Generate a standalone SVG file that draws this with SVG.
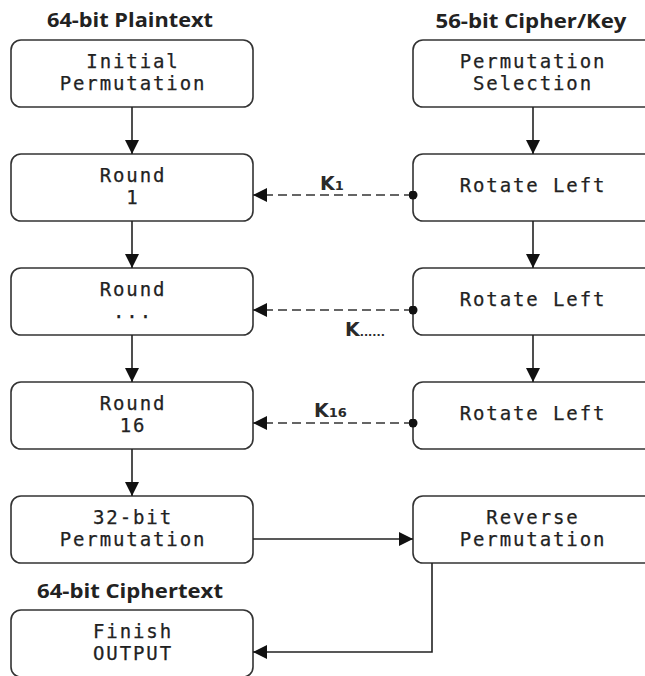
<svg xmlns="http://www.w3.org/2000/svg" width="645" height="676" viewBox="0 0 645 676">
  <style>
    .box { fill: #ffffff; stroke: #333333; stroke-width: 1.6; }
    .lbl { font-family: "DejaVu Sans Mono", "Liberation Mono", monospace; font-size: 19px; letter-spacing: 1.9px; fill: #222222; stroke: #222222; stroke-width: 0.25; text-anchor: middle; }
    .hdr { font-family: "Open Sans", "Liberation Sans", sans-serif; font-weight: bold; font-size: 20px; fill: #222222; text-anchor: middle; }
    .key { font-family: "DejaVu Sans", "Liberation Sans", sans-serif; font-weight: bold; font-size: 19px; fill: #2a2a2a; }
    .flow { fill: none; stroke: #222222; stroke-width: 1.6; }
    .dash { fill: none; stroke: #333333; stroke-width: 1.6; stroke-dasharray: 9 5; }
  </style>
  <defs>
    <marker id="arrow" viewBox="0 0 14 14" refX="14" refY="7" markerWidth="14" markerHeight="14" markerUnits="userSpaceOnUse" orient="auto">
      <path d="M0,0 L14,7 L0,14 Z" fill="#111111"/>
    </marker>
    <marker id="dot" viewBox="0 0 10 10" refX="5" refY="5" markerWidth="9" markerHeight="9" markerUnits="userSpaceOnUse">
      <circle cx="5" cy="5" r="5" fill="#111111"/>
    </marker>
  </defs>

  <!-- column headers -->
  <text class="hdr" x="130" y="27" textLength="166" lengthAdjust="spacingAndGlyphs">64-bit Plaintext</text>
  <text class="hdr" x="531" y="28" textLength="191" lengthAdjust="spacingAndGlyphs">56-bit Cipher/Key</text>
  <text class="hdr" x="130" y="598" textLength="186" lengthAdjust="spacingAndGlyphs">64-bit Ciphertext</text>

  <!-- data path (left column) -->
  <g id="initial-permutation">
    <rect class="box" x="11" y="40" width="242" height="67" rx="10"/>
    <text class="lbl" x="133" y="68">Initial</text>
    <text class="lbl" x="133" y="90">Permutation</text>
  </g>
  <g id="round-1">
    <rect class="box" x="11" y="154" width="242" height="67" rx="10"/>
    <text class="lbl" x="133" y="182">Round</text>
    <text class="lbl" x="133" y="204">1</text>
  </g>
  <g id="round-n">
    <rect class="box" x="11" y="268" width="242" height="67" rx="10"/>
    <text class="lbl" x="133" y="296">Round</text>
    <text class="lbl" x="133" y="318">...</text>
  </g>
  <g id="round-16">
    <rect class="box" x="11" y="382" width="242" height="67" rx="10"/>
    <text class="lbl" x="133" y="410">Round</text>
    <text class="lbl" x="133" y="432">16</text>
  </g>
  <g id="permutation-32">
    <rect class="box" x="11" y="496" width="242" height="67" rx="10"/>
    <text class="lbl" x="133" y="524">32-bit</text>
    <text class="lbl" x="133" y="546">Permutation</text>
  </g>
  <g id="finish-output">
    <rect class="box" x="11" y="610" width="242" height="67" rx="10"/>
    <text class="lbl" x="133" y="638">Finish</text>
    <text class="lbl" x="133" y="660">OUTPUT</text>
  </g>

  <!-- key schedule (right column) -->
  <g id="permutation-selection">
    <rect class="box" x="413" y="40" width="242" height="67" rx="10"/>
    <text class="lbl" x="533" y="68">Permutation</text>
    <text class="lbl" x="533" y="90">Selection</text>
  </g>
  <g id="rotate-left-1">
    <rect class="box" x="413" y="154" width="242" height="67" rx="10"/>
    <text class="lbl" x="533" y="192">Rotate Left</text>
  </g>
  <g id="rotate-left-n">
    <rect class="box" x="413" y="268" width="242" height="67" rx="10"/>
    <text class="lbl" x="533" y="306">Rotate Left</text>
  </g>
  <g id="rotate-left-16">
    <rect class="box" x="413" y="382" width="242" height="67" rx="10"/>
    <text class="lbl" x="533" y="420">Rotate Left</text>
  </g>
  <g id="reverse-permutation">
    <rect class="box" x="413" y="496" width="242" height="67" rx="10"/>
    <text class="lbl" x="533" y="524">Reverse</text>
    <text class="lbl" x="533" y="546">Permutation</text>
  </g>

  <!-- connectors -->
  <g id="connectors">
    <line class="flow" x1="132" y1="107" x2="132" y2="154" marker-end="url(#arrow)"/>
    <line class="flow" x1="132" y1="221" x2="132" y2="268" marker-end="url(#arrow)"/>
    <line class="flow" x1="132" y1="335" x2="132" y2="382" marker-end="url(#arrow)"/>
    <line class="flow" x1="132" y1="449" x2="132" y2="496" marker-end="url(#arrow)"/>

    <line class="flow" x1="533" y1="107" x2="533" y2="154" marker-end="url(#arrow)"/>
    <line class="flow" x1="533" y1="221" x2="533" y2="268" marker-end="url(#arrow)"/>
    <line class="flow" x1="533" y1="335" x2="533" y2="382" marker-end="url(#arrow)"/>

    <line class="dash" x1="413" y1="195" x2="253" y2="195" marker-start="url(#dot)" marker-end="url(#arrow)"/>
    <line class="dash" x1="413" y1="310" x2="253" y2="310" marker-start="url(#dot)" marker-end="url(#arrow)"/>
    <line class="dash" x1="413" y1="423" x2="253" y2="423" marker-start="url(#dot)" marker-end="url(#arrow)"/>

    <line class="flow" x1="253" y1="539" x2="413" y2="539" marker-end="url(#arrow)"/>
    <polyline class="flow" points="432,563 432,652 253,652" marker-end="url(#arrow)"/>

    <text class="key" x="320" y="190">K<tspan font-size="13">1</tspan></text>
    <text class="key" x="345" y="336">K<tspan font-size="11">......</tspan></text>
    <text class="key" x="314" y="417">K<tspan font-size="13">16</tspan></text>
  </g>
</svg>
